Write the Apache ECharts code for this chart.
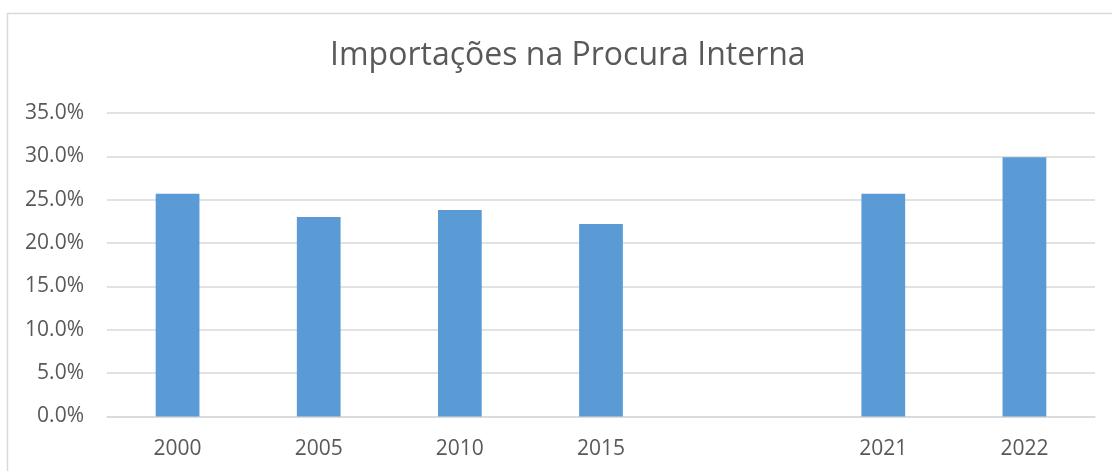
<!DOCTYPE html>
<html>
<head>
<meta charset="utf-8">
<script src="https://cdn.jsdelivr.net/npm/echarts@6/dist/echarts.min.js"></script>
<style>
html,body{margin:0;padding:0;background:#fff;}
#chart{width:1112px;height:471px;}
</style>
</head>
<body>
<div id="chart"></div>
<script>
const titleText = 'Importações na Procura Interna';
const categories = ['2000', '2005', '2010', '2015', '', '2021', '2022'];
const values = [25.7, 23.0, 23.8, 22.2, null, 25.7, 29.9];
const yMin = 0, yMax = 35, yStep = 5;

const chart = echarts.init(document.getElementById('chart'), null, {renderer: 'canvas'});
const font = '"Open Sans", "Liberation Sans", sans-serif';
chart.setOption({
  backgroundColor: '#ffffff',
  animation: false,
  graphic: [{
    type: 'rect',
    shape: {x: 7.5, y: 13.5, width: 1200, height: 600},
    style: {fill: 'none', stroke: '#d9d9d9', lineWidth: 1.5},
    silent: true
  }],
  title: {
    text: titleText,
    left: 330,
    top: 40,
    padding: 0,
    textStyle: {fontFamily: font, fontWeight: 'normal', fontSize: 32, color: '#595959'}
  },
  grid: {left: 107, right: 17, top: 113, bottom: 54.5, containLabel: false},
  xAxis: {
    type: 'category',
    data: categories,
    axisLine: {show: true, lineStyle: {color: '#d9d9d9', width: 1.5}},
    axisTick: {show: false},
    axisLabel: {fontFamily: font, fontSize: 21, color: '#595959', margin: 22}
  },
  yAxis: {
    type: 'value',
    min: yMin, max: yMax, interval: yStep,
    axisLine: {show: false},
    axisTick: {show: false},
    splitLine: {lineStyle: {color: '#d9d9d9', width: 1.5}},
    axisLabel: {fontFamily: font, fontSize: 21, color: '#595959', margin: 23,
      formatter: v => v.toFixed(1) + '%'}
  },
  series: [{
    type: 'bar',
    data: values,
    barWidth: '31%',
    itemStyle: {color: '#5b9bd5'}
  }]
});
</script>
</body>
</html>
